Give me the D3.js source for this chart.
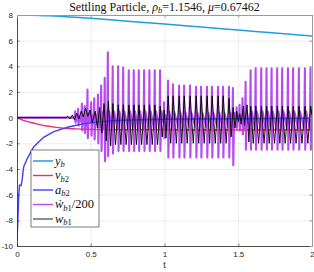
<!DOCTYPE html>
<html>
<head>
<meta charset="utf-8">
<script src="https://cdn.jsdelivr.net/npm/d3@7"></script>
<style>
  body { margin: 0; background: #fff; }
  svg { display: block; }
  .tick text { font-family: "Liberation Sans", Arial, sans-serif; font-size: 8px; fill: #262626; }
  .grid line { stroke: #e3e3e3; stroke-width: 0.6; }
  .grid path { display: none; }
  .lbl { font-family: "Liberation Serif", "DejaVu Serif", serif; }
</style>
</head>
<body>
<svg id="chart" width="314" height="272"></svg>
<script>
// axis ticks
const xTicks = [0, 0.5, 1, 1.5, 2];
const xTickLabels = ["0", "0.5", "1", "1.5", "2"];
const yTicks = [8, 6, 4, 2, 0, -2, -4, -6, -8, -10];
const yTickLabels = ["8", "6", "4", "2", "0", "-2", "-4", "-6", "-8", "-10"];

// y_b (position)
const ybT = [0, 0.1, 0.25, 0.5, 0.75, 1, 1.25, 1.5, 1.75, 2];
const ybV = [8, 7.99, 7.92, 7.74, 7.52, 7.3, 7.06, 6.83, 6.6, 6.36];

// v_b2
const vT = [0, 0.03, 0.06, 0.1, 0.15, 0.2, 0.25, 0.3, 0.4, 0.5, 0.7, 1.0, 1.5, 2.0];
const vV = [0, -0.15, -0.27, -0.4, -0.53, -0.65, -0.73, -0.8, -0.87, -0.91, -0.94, -0.95, -0.96, -0.96];

// a_b2
const aT = [0, 0.005, 0.012, 0.017, 0.028, 0.035, 0.042, 0.046, 0.069, 0.114, 0.18, 0.25, 0.34, 0.45, 0.565, 0.7, 1.0, 1.5, 2.0];
const aV = [-9.6, -8.2, -6.0, -5.25, -5.3, -4.85, -4.1, -3.8, -3.2, -2.26, -1.53, -1.09, -0.75, -0.47, -0.31, -0.2, -0.12, -0.08, -0.05];

// dw_b1/200 spikes: time, top, bottom
const wdT = [0.396, 0.416, 0.441, 0.460, 0.479, 0.504, 0.525, 0.550, 0.572, 0.596, 0.617,
  0.650, 0.687, 0.721, 0.759, 0.793, 0.827, 0.863, 0.899, 0.935, 0.971, 0.998,
  1.025, 1.059, 1.100, 1.134, 1.174, 1.215, 1.249, 1.289, 1.323, 1.364, 1.398, 1.438, 1.465,
  1.49, 1.51, 1.53,
  1.551, 1.585, 1.619, 1.657, 1.693, 1.727, 1.765, 1.799, 1.838, 1.873, 1.912, 1.953, 1.991];
const wdTop = [0.5, 0.7, 1.1, 0.9, 2.2, 1.2, 1.5, 1.8, 2.5, 3.1, 5.1,
  4.0, 4.0, 3.9, 3.7, 3.7, 3.7, 3.7, 3.7, 3.7, 3.7, 1.2,
  2.9, 2.6, 2.5, 2.5, 2.5, 2.4, 2.4, 2.4, 2.4, 2.4, 2.4, 2.4, 2.3,
  0.8, 1.0, 1.5,
  2.8, 3.7, 3.85, 3.85, 3.85, 3.85, 3.85, 3.85, 3.85, 3.85, 3.85, 3.85, 3.85];
const wdBot = [-0.4, -0.6, -1.0, -1.2, -1.6, -1.4, -1.7, -2.0, -2.6, -3.4, -3.0,
  -2.8, -2.6, -2.6, -2.6, -2.6, -2.6, -2.6, -2.6, -2.6, -2.6, -1.6,
  -3.1, -3.1, -3.1, -3.1, -3.1, -3.1, -3.1, -3.1, -3.1, -3.1, -3.1, -3.1, -3.7,
  -0.8, -1.0, -1.3,
  -2.5, -2.5, -2.5, -2.5, -2.5, -2.5, -2.5, -2.5, -2.5, -2.5, -2.5, -2.5, -2.5];

// w_b1
const wT = [0, 0.33, 0.345, 0.36, 0.375, 0.39, 0.405, 0.42, 0.435, 0.45, 0.465, 0.48, 0.495, 0.51, 0.53, 0.545, 0.56, 0.575, 0.59, 0.605, 0.62, 0.635,
  0.650, 0.668, 0.687, 0.704, 0.721, 0.740, 0.759, 0.776, 0.793, 0.810, 0.827, 0.845, 0.863, 0.881, 0.899, 0.917, 0.935, 0.953, 0.971, 0.985, 0.998, 1.010,
  1.025, 1.042, 1.059, 1.080, 1.100, 1.117, 1.134, 1.154, 1.174, 1.195, 1.215, 1.232, 1.249, 1.269, 1.289, 1.306, 1.323, 1.344, 1.364, 1.381, 1.398, 1.418, 1.438, 1.452, 1.465, 1.478, 1.49, 1.50, 1.51, 1.52, 1.535,
  1.542, 1.56, 1.572, 1.585, 1.602, 1.619, 1.638, 1.657, 1.675, 1.693, 1.710, 1.727, 1.746, 1.765, 1.782, 1.799, 1.818, 1.838, 1.855, 1.873, 1.892, 1.912, 1.932, 1.953, 1.972, 1.991, 2.0];
const wV = [0, 0, 0.1, -0.1, 0.2, -0.15, 0.35, -0.1, 0.5, 0.05, 0.75, 0.1, 0.6, -0.4, 0.5, -0.8, 0.8, -1.2, 1.1, -1.8, 1.3, -2.2,
  1.1, -2.1, 1.0, -2.1, 1.0, -2.1, 1.0, -2.1, 1.0, -2.1, 1.0, -2.1, 1.0, -2.1, 1.0, -2.1, 1.0, -2.1, 0.9, -1.5, 0.6, -1.6,
  1.7, -2.0, 1.7, -2.0, 1.7, -2.0, 1.7, -2.0, 1.7, -2.0, 1.7, -2.0, 1.7, -2.0, 1.7, -2.0, 1.7, -2.0, 1.7, -2.0, 1.7, -2.0, 1.5, -1.5, 0.8, -0.8, 0.5, -0.3, 0.3, -0.5, 0.9,
  -0.6, 1.0, -1.9, 0.9, -2.0, 0.9, -2.0, 0.9, -2.0, 0.9, -2.0, 0.9, -2.0, 0.9, -2.0, 0.9, -2.0, 0.9, -2.0, 0.9, -2.0, 0.9, -2.0, 0.9, -2.0, 0.9, 0.2];

const margin = { left: 17, right: 2, top: 15, bottom: 26 };
const width = 314, height = 272;
const drawWidth = width - margin.left - margin.right;
const drawHeight = height - margin.top - margin.bottom;

const svg = d3.select("#chart");
const g = svg.append("g").attr("transform", `translate(${margin.left},${margin.top})`);

const xScale = d3.scaleLinear().domain([0, 2]).range([0, drawWidth]);
const yScale = d3.scaleLinear().domain([-10, 8]).range([drawHeight, 0]);

// grid
g.append("g").attr("class", "grid")
  .attr("transform", `translate(0,${drawHeight})`)
  .call(d3.axisBottom(xScale).tickValues(xTicks).tickSize(-drawHeight).tickFormat(""));
g.append("g").attr("class", "grid")
  .call(d3.axisLeft(yScale).tickValues(yTicks).tickSize(-drawWidth).tickFormat(""));

const zip = (t, v) => t.map((d, i) => [d, v[i]]);
const line = d3.line().x(d => xScale(d[0])).y(d => yScale(d[1]));

// spike path for dw/200
let wdPts = [[0, 0], [0.39, 0]];
wdT.forEach((t, i) => {
  wdPts.push([t - 0.005, -0.9 * Math.min(1, wdTop[i] / 3)]);
  wdPts.push([t - 0.0012, wdTop[i]]);
  wdPts.push([t + 0.0012, wdBot[i]]);
  wdPts.push([t + 0.007, 0.5 * Math.min(1, wdTop[i] / 3)]);
});

const clip = svg.append("clipPath").attr("id", "clip").append("rect")
  .attr("width", drawWidth).attr("height", drawHeight);
const plot = g.append("g").attr("clip-path", "url(#clip)");

const series = [
  { pts: wdPts, color: "#b54cf0", w: 2.1 },
  { pts: zip(ybT, ybV), color: "#1f9de6", w: 1.5, curve: true },
  { pts: zip(vT, vV), color: "#e8306c", w: 1.4, curve: true },
  { pts: zip(aT, aV), color: "#4040f5", w: 1.4 },
  { pts: zip(wT, wV), color: "#000000", w: 0.9 }
];
series.forEach(s => {
  plot.append("path")
    .attr("d", (s.curve ? line.curve(d3.curveMonotoneX) : line.curve(d3.curveLinear))(s.pts))
    .attr("fill", "none").attr("stroke", s.color).attr("stroke-width", s.w)
    .attr("stroke-linejoin", "round");
});
line.curve(d3.curveLinear);

// axes
const xAxis = g.append("g").attr("transform", `translate(0,${drawHeight})`)
  .call(d3.axisBottom(xScale).tickValues(xTicks).tickFormat((d, i) => xTickLabels[i]).tickSizeInner(-2.5).tickSizeOuter(0).tickPadding(5));
const yAxis = g.append("g")
  .call(d3.axisLeft(yScale).tickValues(yTicks).tickFormat((d, i) => yTickLabels[i]).tickSizeInner(-2.5).tickSizeOuter(0).tickPadding(4));
[xAxis, yAxis].forEach(a => {
  a.select(".domain").attr("stroke", "#262626").attr("stroke-width", 0.8);
  a.selectAll(".tick line").attr("stroke", "#262626").attr("stroke-width", 0.6);
});
g.append("g").attr("transform", `translate(0,0)`)
  .call(d3.axisTop(xScale).tickValues(xTicks).tickFormat("").tickSizeInner(-2.5).tickSizeOuter(0))
  .call(a => { a.select(".domain").attr("stroke", "#9a9a9a").attr("stroke-width", 1); a.selectAll("line").attr("stroke", "#9a9a9a"); });
g.append("g").attr("transform", `translate(${drawWidth},0)`)
  .call(d3.axisRight(yScale).tickValues(yTicks).tickFormat("").tickSizeInner(-2.5).tickSizeOuter(0))
  .call(a => { a.select(".domain").attr("stroke", "#9a9a9a").attr("stroke-width", 1); a.selectAll("line").attr("stroke", "#9a9a9a"); });

// axis label
svg.append("text").attr("x", margin.left + drawWidth / 2).attr("y", 268)
  .attr("text-anchor", "middle").attr("font-family", "Liberation Sans, Arial, sans-serif")
  .attr("font-size", 9).attr("fill", "#262626").text("t");

// title
const title = svg.append("text").attr("class", "lbl").attr("x", margin.left + drawWidth / 2).attr("y", 11)
  .attr("text-anchor", "middle").attr("font-size", 12).attr("fill", "#111");
title.append("tspan").text("Settling Particle, ");
title.append("tspan").attr("font-style", "italic").text("ρ");
title.append("tspan").attr("font-style", "italic").attr("font-size", 8.5).attr("dy", 2).text("b");
title.append("tspan").attr("dy", -2).text("=1.1546, ");
title.append("tspan").attr("font-style", "italic").text("μ");
title.append("tspan").text("=0.67462");

// legend
const legendItems = [
  { main: "y", sub: "b", tail: "", color: "#1f9de6", w: 1.5 },
  { main: "v", sub: "b2", tail: "", color: "#e8306c", w: 1.4 },
  { main: "a", sub: "b2", tail: "", color: "#4040f5", w: 1.4 },
  { main: "ẇ", sub: "b1", tail: "/200", color: "#b54cf0", w: 1.4 },
  { main: "w", sub: "b1", tail: "", color: "#000000", w: 0.9 }
];
const lg = svg.append("g").attr("transform", "translate(31,150)");
lg.append("rect").attr("width", 68).attr("height", 77)
  .attr("fill", "#fff").attr("stroke", "#262626").attr("stroke-width", 0.6);
legendItems.forEach((d, i) => {
  const y = 11 + i * 14.5;
  lg.append("line").attr("x1", 2).attr("x2", 22).attr("y1", y).attr("y2", y)
    .attr("stroke", d.color).attr("stroke-width", d.w);
  const t = lg.append("text").attr("class", "lbl").attr("x", 24).attr("y", y + 3.5)
    .attr("font-size", 12.5).attr("fill", "#111");
  t.append("tspan").attr("font-style", "italic").text(d.main);
  t.append("tspan").attr("font-size", 8.5).attr("dy", 2.5)
    .call(s => {
      s.append("tspan").attr("font-style", "italic").text(d.sub[0]);
      if (d.sub.length > 1) s.append("tspan").text(d.sub.slice(1));
    });
  if (d.tail) t.append("tspan").attr("dy", -2.5).text(d.tail);
});
</script>
</body>
</html>
